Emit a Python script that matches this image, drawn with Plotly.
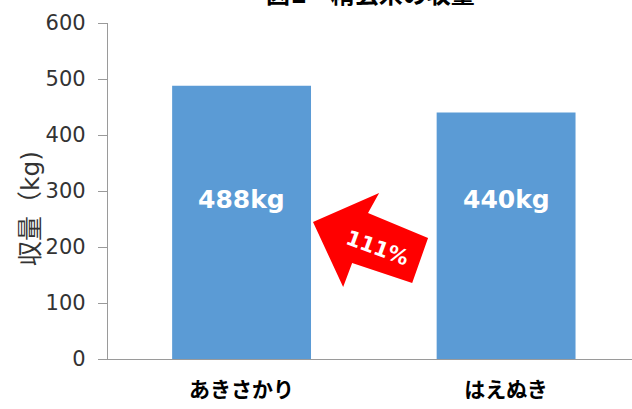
import plotly.graph_objects as go

categories = ["あきさかり", "はえぬき"]
yields = [488, 440]
y_ticks = [0, 100, 200, 300, 400, 500, 600]

ratio_text = f"{round(yields[0] / yields[1] * 100)}%"
font_fam = "DejaVu Sans, Noto Sans CJK JP, sans-serif"
label_level = 284  # vertical level of value labels (data units)

fig = go.Figure()
fig.add_trace(go.Bar(
    x=[0, 1], y=yields,
    width=0.525,
    marker=dict(color="#5B9BD5", line=dict(width=0)),
    hoverinfo="skip",
))
for i, v in enumerate(yields):
    fig.add_annotation(x=i, y=label_level, xref="x", yref="y", text=f"{v}kg",
                       showarrow=False,
                       font=dict(color="white", size=25, family=font_fam, weight="bold"))

# decorative arrow (pixel-derived shape in data units)
arrow_pts = [(0.270, 244.6), (0.520, 296.4), (0.478, 260.7), (0.705, 216.1),
             (0.645, 135.7), (0.418, 171.4), (0.384, 128.6)]
path = "M " + " L ".join(f"{x},{y}" for x, y in arrow_pts) + " Z"
fig.add_shape(type="path", path=path, xref="x", yref="y",
              fillcolor="#FF0000", line=dict(width=0), layer="above")
fig.add_annotation(x=0.513, y=198, xref="x", yref="y", text=ratio_text,
                   showarrow=False, textangle=20,
                   font=dict(color="white", size=21, family=font_fam, weight="bold"))

fig.add_annotation(x=0.5, y=1, xref="paper", yref="paper", yanchor="bottom",
                   yshift=12, text="図1　精玄米の収量", showarrow=False,
                   font=dict(color="black", size=24, family=font_fam, weight="bold"))

# y-axis title
fig.add_annotation(x=-0.149, y=0.449, xref="paper", yref="paper",
                   xanchor="center", yanchor="middle",
                   text="収量（kg)", showarrow=False, textangle=-90,
                   font=dict(size=25, color="#333333", family=font_fam))

fig.update_layout(
    width=632, height=409,
    margin=dict(l=108, r=0, t=23, b=50),
    plot_bgcolor="white", paper_bgcolor="white",
    showlegend=False,
    font=dict(family=font_fam),
    xaxis=dict(range=[-0.505, 1.476], tickvals=[0, 1], ticktext=categories,
               showline=True, linecolor="#9a9a9a", linewidth=1.2,
               ticks="", showgrid=False, zeroline=False,
               tickfont=dict(size=21, color="black", family=font_fam, weight="bold"),
               ticklabelstandoff=12),
    yaxis=dict(range=[0, 600], tickvals=y_ticks, showline=True,
               linecolor="#9a9a9a", linewidth=1.2, ticks="outside", ticklen=9,
               tickcolor="#9a9a9a", tickwidth=1.2, showgrid=False, zeroline=False,
               tickfont=dict(size=21, color="#333333", family=font_fam),
               ticklabelstandoff=8),
)

fig.write_html("out.html")
